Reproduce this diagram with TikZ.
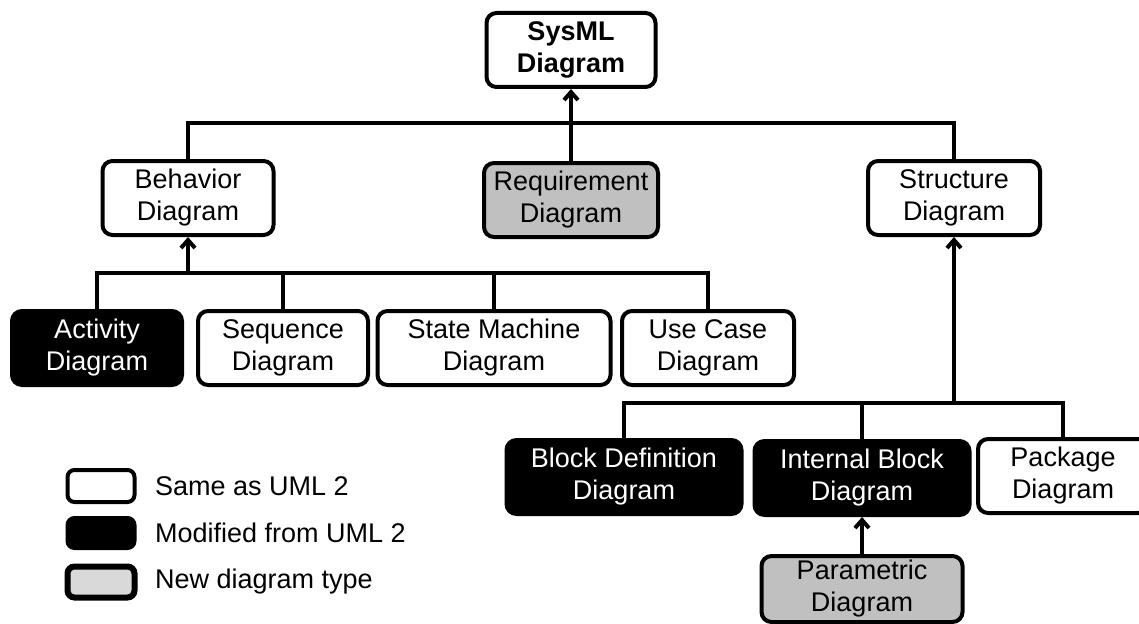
\documentclass[tikz,border=0pt]{standalone}
\usepackage{fontspec}
\setmainfont{Liberation Sans}
\usetikzlibrary{arrows.meta}

\definecolor{newgray}{RGB}{192,192,192}
\definecolor{legendgray}{RGB}{217,217,217}
\newcommand{\diagfont}{\fontsize{27}{32}\selectfont}

\tikzstyle{diag}=[draw,line width=4pt,rounded corners=10pt,align=center,minimum height=74pt,inner sep=0pt,font=\diagfont]
\tikzstyle{same}=[diag,fill=white]
\tikzstyle{modified}=[diag,fill=black,text=white]
\tikzstyle{newtype}=[diag,fill=newgray]
\tikzstyle{link}=[draw,line width=4pt,-]
\tikzstyle{genarrow}=[draw,line width=4pt,-{Straight Barb[length=8pt,width=14pt]}]
\tikzstyle{legendtext}=[anchor=west,inner sep=0pt,font=\diagfont]

\begin{document}
\begin{tikzpicture}[x=1pt, y=-1pt]
    \useasboundingbox (0,0) rectangle (1139,623);
    \clip (0,0) rectangle (1139,623);
    % Top level and first row
    \node[same, minimum width=169pt] (sysml) at (571,50) {\textbf{SysML}\\\textbf{Diagram}};
    \node[same, minimum width=171pt] (beh) at (188,198) {Behavior\\Diagram};
    \node[newtype, minimum width=174pt] (req) at (571,200) {Requirement\\Diagram};
    \node[same, minimum width=172pt] (str) at (954,198) {Structure\\Diagram};
    % Behavior diagrams
    \node[modified, minimum width=170pt] (act) at (97,348) {Activity\\Diagram};
    \node[same, minimum width=170pt] (seq) at (283,348) {Sequence\\Diagram};
    \node[same, minimum width=233pt] (stm) at (494,348) {State Machine\\Diagram};
    \node[same, minimum width=172pt] (uc) at (708,348) {Use Case\\Diagram};
    % Structure diagrams
    \node[modified, minimum width=235pt] (bdd) at (624,477) {Block Definition\\Diagram};
    \node[modified, minimum width=215pt] (ibd) at (862,478) {Internal Block\\Diagram};
    \node[same, minimum width=170pt] (pkg) at (1063,476) {Package\\Diagram};
    \node[newtype, minimum width=201pt, minimum height=66pt] (par) at (862,589) {Parametric\\Diagram};

    % Connectors
    \coordinate (topbus) at (571,123);
    \coordinate (behbus) at (188,273);
    \coordinate (strbus) at (954,403);
    \draw[link] (beh.north) |- (topbus) -| (str.north);
    \draw[genarrow] (req.north) -- (sysml.south);
    \foreach \child in {act,seq,stm,uc}
        \draw[link] (\child.north) |- (behbus);
    \draw[genarrow] (behbus) -- (beh.south);
    \foreach \child in {bdd,ibd,pkg}
        \draw[link] (\child.north) |- (strbus);
    \draw[genarrow] (strbus) -- (str.south);
    \draw[genarrow] (par.north) -- (ibd.south);

    % Legend
    \node[same, minimum width=67pt, minimum height=32pt, rounded corners=7pt] (lsame) at (101,486) {};
    \node[modified, minimum width=67pt, minimum height=30pt, rounded corners=7pt] (lmod) at (101,533) {};
    \node[diag, fill=legendgray, line width=6pt, minimum width=67pt, minimum height=31pt, rounded corners=7pt] (lnew) at (101,582) {};
    \node[legendtext] (tsame) at (155,486) {Same as UML 2};
    \node[legendtext] (tmod) at (155,533) {Modified from UML 2};
    \node[legendtext] (tnew) at (155,582) {New diagram type};
\end{tikzpicture}
\end{document}
